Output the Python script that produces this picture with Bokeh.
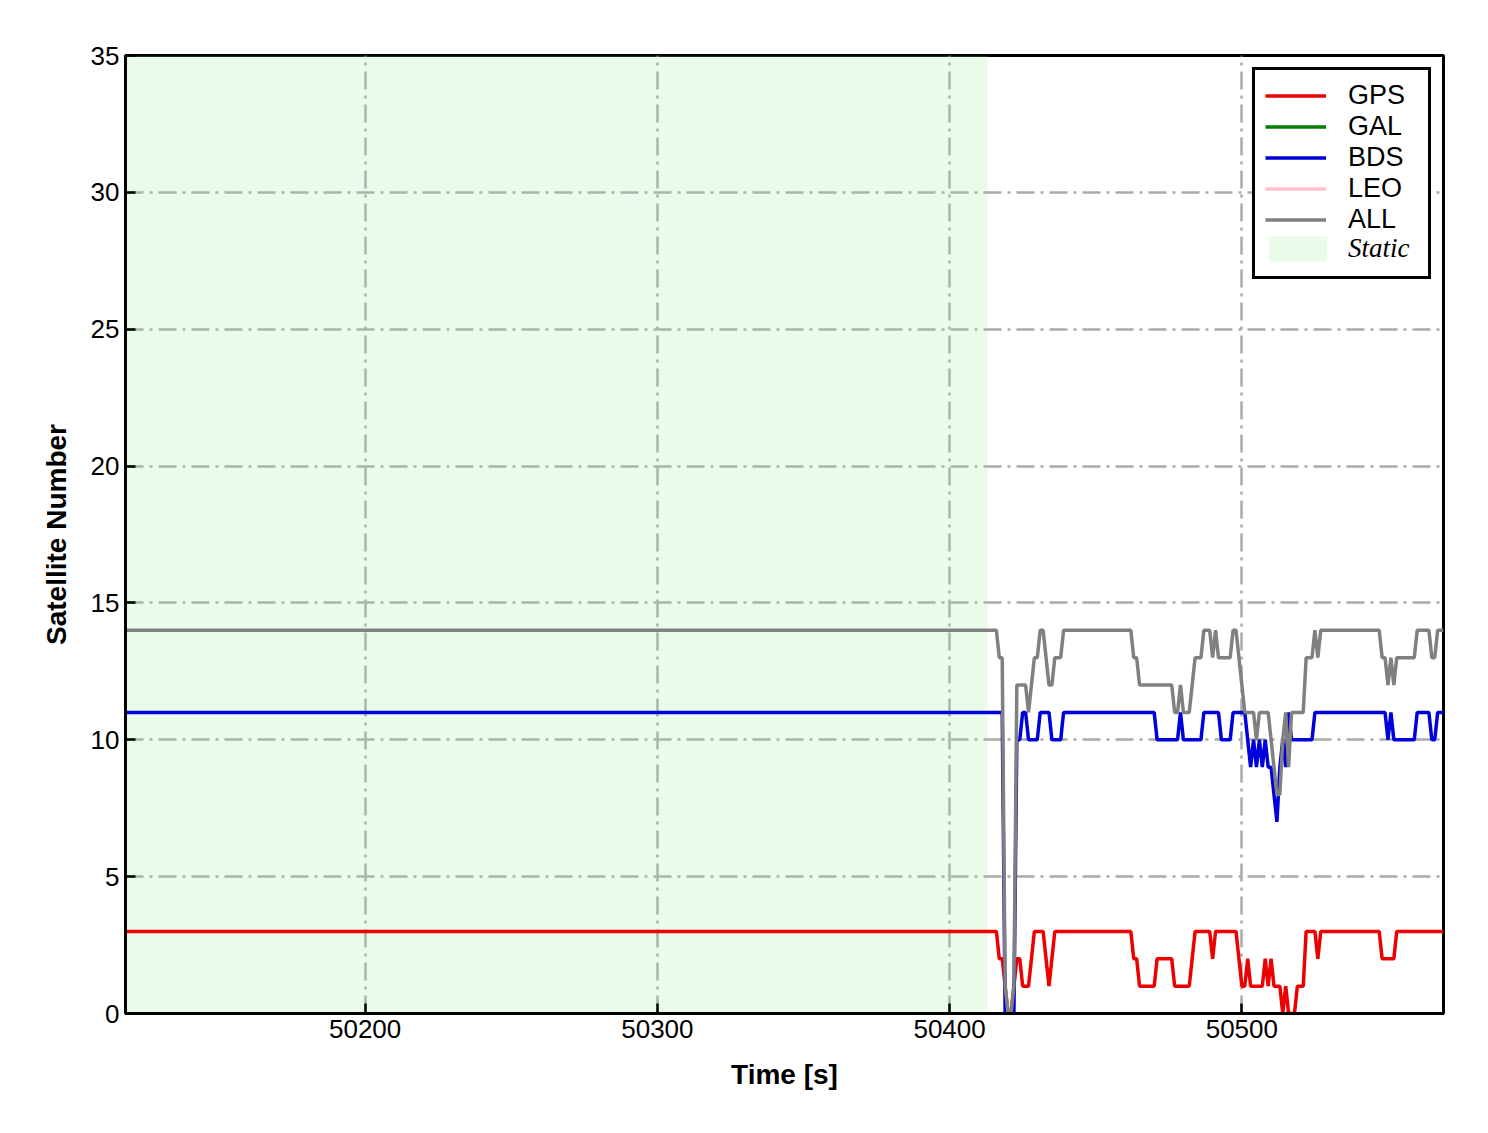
from bokeh.plotting import figure
from bokeh.models import Range1d, Legend, LegendItem, ColumnDataSource
from bokeh.embed import file_html
from bokeh.resources import INLINE

# ---------------- data ----------------
t_first = 50118          # first epoch shown
t_last = 50569           # last epoch shown
dyn_first = 50414        # first per-second sample listed below
static_start = [50118]
static_end = [50413]
x_ticks = [50200, 50300, 50400, 50500]
y_ticks = [0, 5, 10, 15, 20, 25, 30, 35]

gps_static = 3
bds_static = 11
all_static = 14

# per-second values from 50414 to 50569 (10 per row)
gps_dyn = [
    3, 3, 3, 2, 2, 1, 0, 0, 1, 2,        # 50414
    2, 1, 1, 1, 2, 3, 3, 3, 3, 2,        # 50424
    1, 2, 3, 3, 3, 3, 3, 3, 3, 3,        # 50434
    3, 3, 3, 3, 3, 3, 3, 3, 3, 3,        # 50444
    3, 3, 3, 3, 3, 3, 3, 3, 3, 2,        # 50454
    2, 1, 1, 1, 1, 1, 1, 2, 2, 2,        # 50464
    2, 2, 2, 1, 1, 1, 1, 1, 1, 2,        # 50474
    3, 3, 3, 3, 3, 3, 2, 3, 3, 3,        # 50484
    3, 3, 3, 3, 3, 2, 1, 1, 2, 1,        # 50494
    1, 1, 1, 1, 2, 1, 2, 1, 1, 1,        # 50504
    0, 1, 0, 0, 0, 1, 1, 1, 3, 3,        # 50514
    3, 3, 2, 3, 3, 3, 3, 3, 3, 3,        # 50524
    3, 3, 3, 3, 3, 3, 3, 3, 3, 3,        # 50534
    3, 3, 3, 3, 2, 2, 2, 2, 2, 3,        # 50544
    3, 3, 3, 3, 3, 3, 3, 3, 3, 3,        # 50554
    3, 3, 3, 3, 3, 3,                    # 50564
]
bds_dyn = [
    11, 11, 11, 11, 11, 0, 0, 0, 0, 10,          # 50414
    10, 11, 11, 10, 10, 10, 10, 11, 11, 11,      # 50424
    11, 10, 10, 10, 10, 11, 11, 11, 11, 11,      # 50434
    11, 11, 11, 11, 11, 11, 11, 11, 11, 11,      # 50444
    11, 11, 11, 11, 11, 11, 11, 11, 11, 11,      # 50454
    11, 11, 11, 11, 11, 11, 11, 10, 10, 10,      # 50464
    10, 10, 10, 10, 10, 11, 10, 10, 10, 10,      # 50474
    10, 10, 10, 11, 11, 11, 11, 11, 11, 10,      # 50484
    10, 10, 10, 11, 11, 11, 11, 11, 10, 9,       # 50494
    10, 9, 10, 9, 10, 9, 9, 8, 7, 9,             # 50504
    10, 9, 11, 10, 10, 10, 10, 10, 10, 10,       # 50514
    10, 11, 11, 11, 11, 11, 11, 11, 11, 11,      # 50524
    11, 11, 11, 11, 11, 11, 11, 11, 11, 11,      # 50534
    11, 11, 11, 11, 11, 11, 10, 11, 10, 10,      # 50544
    10, 10, 10, 10, 10, 10, 11, 11, 11, 11,      # 50554
    11, 10, 10, 11, 11, 11,                      # 50564
]
all_dyn = [
    14, 14, 14, 13, 13, 1, 0, 0, 1, 12,          # 50414
    12, 12, 12, 11, 12, 13, 13, 14, 14, 13,      # 50424
    12, 12, 13, 13, 13, 14, 14, 14, 14, 14,      # 50434
    14, 14, 14, 14, 14, 14, 14, 14, 14, 14,      # 50444
    14, 14, 14, 14, 14, 14, 14, 14, 14, 13,      # 50454
    13, 12, 12, 12, 12, 12, 12, 12, 12, 12,      # 50464
    12, 12, 12, 11, 11, 12, 11, 11, 11, 12,      # 50474
    13, 13, 13, 14, 14, 14, 13, 14, 13, 13,      # 50484
    13, 13, 13, 14, 14, 13, 12, 11, 11, 11,      # 50494
    11, 10, 11, 11, 11, 11, 10, 9, 8, 8,         # 50504
    10, 11, 9, 11, 11, 11, 11, 11, 13, 13,       # 50514
    13, 14, 13, 14, 14, 14, 14, 14, 14, 14,      # 50524
    14, 14, 14, 14, 14, 14, 14, 14, 14, 14,      # 50534
    14, 14, 14, 14, 13, 13, 12, 13, 12, 13,      # 50544
    13, 13, 13, 13, 13, 13, 14, 14, 14, 14,      # 50554
    14, 13, 13, 14, 14, 14,                      # 50564
]

time = [t_first] + list(range(dyn_first, t_last + 1))
gps = [gps_static] + gps_dyn
bds = [bds_static] + bds_dyn
alls = [all_static] + all_dyn
# GAL and LEO: no satellites drawn in the reference (not available)
gal = [float("nan")] * len(time)
leo = [float("nan")] * len(time)

# ---------------- figure ----------------
FONT = "Liberation Sans"
FRAME_W, FRAME_H = 1318, 958
p = figure(
    output_backend="svg", toolbar_location=None,
    frame_width=FRAME_W, frame_height=FRAME_H,
    min_border_left=125, min_border_top=55, min_border_right=37, min_border_bottom=100,
    x_range=Range1d(t_first, t_last), y_range=Range1d(y_ticks[0], y_ticks[-1]),
    background_fill_color="white", border_fill_color="white",
)
p.outline_line_color = "black"
p.outline_line_width = 3
p.outline_line_alpha = 1.0

src = ColumnDataSource(dict(t=time, gps=gps, bds=bds, all=alls, gal=gal, leo=leo))

r_static = p.quad(left=static_start, right=static_end, bottom=[y_ticks[0]], top=[y_ticks[-1]],
                  fill_color="lightgreen", fill_alpha=0.2, line_color=None)
r_gps = p.line("t", "gps", source=src, line_color="#ee0000", line_width=3.5)
r_gal = p.line("t", "gal", source=src, line_color="green", line_width=3.5)
r_bds = p.line("t", "bds", source=src, line_color="#0000dd", line_width=3.5)
r_leo = p.line("t", "leo", source=src, line_color="pink", line_width=3.5)
r_all = p.line("t", "all", source=src, line_color="gray", line_width=3.5)
# invisible placeholder that reserves legend row 6 in the boxed legend
r_blank = p.line("t", "gal", source=src, line_alpha=0.0)

for ax in (p.xaxis[0], p.yaxis[0]):
    ax.axis_line_width = 3
    ax.axis_line_color = "black"
    ax.major_tick_in = 10
    ax.major_tick_out = 0
    ax.major_tick_line_width = 2.5
    ax.major_tick_line_color = "black"
    ax.minor_tick_line_color = None
    ax.major_label_text_font = FONT
    ax.major_label_text_font_size = "26px"
    ax.major_label_text_color = "black"
    ax.axis_label_text_font = FONT
    ax.axis_label_text_font_size = "28px"
    ax.axis_label_text_font_style = "bold"
    ax.axis_label_text_color = "black"

p.xaxis.ticker = x_ticks
p.yaxis.ticker = y_ticks
p.xaxis.axis_label = "Time [s]"
p.yaxis.axis_label = "Satellite Number"
p.xaxis.major_label_standoff = 6
p.yaxis.major_label_standoff = 6
p.xaxis.axis_label_standoff = 18
p.yaxis.axis_label_standoff = 16

for g in (p.xgrid[0], p.ygrid[0]):
    g.grid_line_color = "#aaaaaa"
    g.grid_line_width = 2.5
    g.grid_line_dash = "18 6 3 6"

# legend geometry
MARGIN, PAD, ROW = 12, 10, 31
GLYPH_W, STANDOFF, LABEL_W = 61, 22, 70
LEG_W = PAD + GLYPH_W + STANDOFF + LABEL_W + PAD

legend = Legend(
    items=[
        LegendItem(label="GPS", renderers=[r_gps]),
        LegendItem(label="GAL", renderers=[r_gal]),
        LegendItem(label="BDS", renderers=[r_bds]),
        LegendItem(label="LEO", renderers=[r_leo]),
        LegendItem(label="ALL", renderers=[r_all]),
        LegendItem(label=" ", renderers=[r_blank]),
    ],
    location="top_right", margin=MARGIN, label_text_font=FONT,
    padding=PAD, spacing=0, glyph_width=GLYPH_W, glyph_height=ROW, label_height=ROW,
    label_width=LABEL_W, label_standoff=STANDOFF, label_text_font_size="27px",
    label_text_color="black",
    border_line_color="black", border_line_width=3, border_line_alpha=1.0,
    background_fill_color="white", background_fill_alpha=1.0,
)
p.add_layout(legend)

# second legend carrying the italic serif "Static" entry, placed on row 6
row6_top = MARGIN + PAD + 5 * ROW          # from frame top
leg2_bottom = FRAME_H - (row6_top + ROW + PAD)
legend2 = Legend(
    items=[LegendItem(label="Static", renderers=[r_static])],
    location=(FRAME_W - MARGIN - LEG_W + 3, leg2_bottom + 9), margin=0,
    padding=PAD, spacing=0, glyph_width=73, glyph_height=ROW, label_height=ROW,
    label_width=LABEL_W, label_standoff=14, label_text_font_size="27px",
    label_text_color="black",
    label_text_font="Liberation Serif", label_text_font_style="italic",
    border_line_color=None, background_fill_alpha=0.0,
)
p.add_layout(legend2)

open("out.html", "w").write(file_html(p, INLINE))
